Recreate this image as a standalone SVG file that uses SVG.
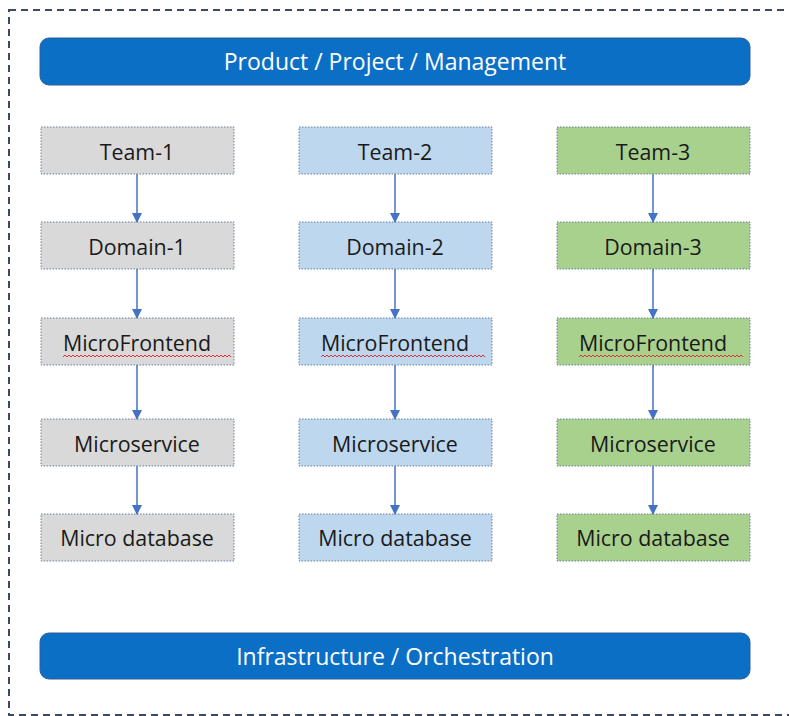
<svg xmlns="http://www.w3.org/2000/svg" width="789" height="716" viewBox="0 0 789 716">
<defs>
<marker id="ah" markerWidth="10" markerHeight="10" refX="9" refY="5" orient="auto" markerUnits="userSpaceOnUse">
<path d="M0,0 L10,5 L0,10 Z" fill="#4472c4"/>
</marker>
<style>
.bar{fill:#0b6fc6;stroke:#2f5f9a;stroke-width:1}
.bt{font-family:"Open Sans","Liberation Sans",sans-serif;font-size:23px;fill:#ffffff;text-anchor:middle;dominant-baseline:central}
.n{stroke:#6b7f99;stroke-width:1;stroke-dasharray:1.5 1.5}
.g{fill:#d9d9d9}.b{fill:#bdd7ee}.gr{fill:#a9d18e}
.t{font-family:"Open Sans","Liberation Sans",sans-serif;font-size:21.4px;fill:#1a1a1a;text-anchor:middle;dominant-baseline:central}
.c line{stroke:#4472c4;stroke-width:1.5;marker-end:url(#ah)}
.sq{fill:none;stroke:#e03030;stroke-width:1}
</style>
</defs>
<rect x="9" y="10" width="790" height="705" fill="none" stroke="#3d4a66" stroke-width="2" stroke-dasharray="7 5"/>
<g id="top"><rect class="bar" x="40" y="38" width="710" height="47" rx="9"/><text class="bt" x="395" y="61">Product / Project / Management</text></g>
<g id="bottom"><rect class="bar" x="40" y="633" width="710" height="46" rx="9"/><text class="bt" x="395" y="656">Infrastructure / Orchestration</text></g>

<g id="team1"><rect class="n g" x="41" y="127" width="193" height="47"/><text class="t" x="137" y="151">Team-1</text></g>
<g id="domain1"><rect class="n g" x="41" y="222" width="193" height="47"/><text class="t" x="137" y="246">Domain-1</text></g>
<g id="mfe1"><rect class="n g" x="41" y="318" width="193" height="47"/><text class="t" x="137" y="342">MicroFrontend</text></g>
<g id="ms1"><rect class="n g" x="41" y="419" width="193" height="47"/><text class="t" x="137" y="443">Microservice</text></g>
<g id="db1"><rect class="n g" x="41" y="514" width="193" height="47"/><text class="t" x="137" y="537">Micro database</text></g>

<g id="team2"><rect class="n b" x="299" y="127" width="193" height="47"/><text class="t" x="395" y="151">Team-2</text></g>
<g id="domain2"><rect class="n b" x="299" y="222" width="193" height="47"/><text class="t" x="395" y="246">Domain-2</text></g>
<g id="mfe2"><rect class="n b" x="299" y="318" width="193" height="47"/><text class="t" x="395" y="342">MicroFrontend</text></g>
<g id="ms2"><rect class="n b" x="299" y="419" width="193" height="47"/><text class="t" x="395" y="443">Microservice</text></g>
<g id="db2"><rect class="n b" x="299" y="514" width="193" height="47"/><text class="t" x="395" y="537">Micro database</text></g>

<g id="team3"><rect class="n gr" x="557" y="127" width="193" height="47"/><text class="t" x="653" y="151">Team-3</text></g>
<g id="domain3"><rect class="n gr" x="557" y="222" width="193" height="47"/><text class="t" x="653" y="246">Domain-3</text></g>
<g id="mfe3"><rect class="n gr" x="557" y="318" width="193" height="47"/><text class="t" x="653" y="342">MicroFrontend</text></g>
<g id="ms3"><rect class="n gr" x="557" y="419" width="193" height="47"/><text class="t" x="653" y="443">Microservice</text></g>
<g id="db3"><rect class="n gr" x="557" y="514" width="193" height="47"/><text class="t" x="653" y="537">Micro database</text></g>

<g id="squiggles">
<path class="sq" d="M63,357 l2,-2 l2,2 l2,-2 l2,2 l2,-2 l2,2 l2,-2 l2,2 l2,-2 l2,2 l2,-2 l2,2 l2,-2 l2,2 l2,-2 l2,2 l2,-2 l2,2 l2,-2 l2,2 l2,-2 l2,2 l2,-2 l2,2 l2,-2 l2,2 l2,-2 l2,2 l2,-2 l2,2 l2,-2 l2,2 l2,-2 l2,2 l2,-2 l2,2 l2,-2 l2,2 l2,-2 l2,2 l2,-2 l2,2 l2,-2 l2,2 l2,-2 l2,2 l2,-2 l2,2 l2,-2 l2,2 l2,-2 l2,2 l2,-2 l2,2 l2,-2 l2,2 l2,-2 l2,2 l2,-2 l2,2 l2,-2 l2,2 l2,-2 l2,2 l2,-2 l2,2 l2,-2 l2,2 l2,-2 l2,2 l2,-2 l2,2 l2,-2 l2,2 l2,-2 l2,2 l2,-2 l2,2 l2,-2 l2,2 l2,-2 l2,2 l2,-2 l2,2"/>
<path class="sq" transform="translate(258,0)" d="M63,357 l2,-2 l2,2 l2,-2 l2,2 l2,-2 l2,2 l2,-2 l2,2 l2,-2 l2,2 l2,-2 l2,2 l2,-2 l2,2 l2,-2 l2,2 l2,-2 l2,2 l2,-2 l2,2 l2,-2 l2,2 l2,-2 l2,2 l2,-2 l2,2 l2,-2 l2,2 l2,-2 l2,2 l2,-2 l2,2 l2,-2 l2,2 l2,-2 l2,2 l2,-2 l2,2 l2,-2 l2,2 l2,-2 l2,2 l2,-2 l2,2 l2,-2 l2,2 l2,-2 l2,2 l2,-2 l2,2 l2,-2 l2,2 l2,-2 l2,2 l2,-2 l2,2 l2,-2 l2,2 l2,-2 l2,2 l2,-2 l2,2 l2,-2 l2,2 l2,-2 l2,2 l2,-2 l2,2 l2,-2 l2,2 l2,-2 l2,2 l2,-2 l2,2 l2,-2 l2,2 l2,-2 l2,2 l2,-2 l2,2 l2,-2 l2,2"/>
<path class="sq" transform="translate(516,0)" d="M63,357 l2,-2 l2,2 l2,-2 l2,2 l2,-2 l2,2 l2,-2 l2,2 l2,-2 l2,2 l2,-2 l2,2 l2,-2 l2,2 l2,-2 l2,2 l2,-2 l2,2 l2,-2 l2,2 l2,-2 l2,2 l2,-2 l2,2 l2,-2 l2,2 l2,-2 l2,2 l2,-2 l2,2 l2,-2 l2,2 l2,-2 l2,2 l2,-2 l2,2 l2,-2 l2,2 l2,-2 l2,2 l2,-2 l2,2 l2,-2 l2,2 l2,-2 l2,2 l2,-2 l2,2 l2,-2 l2,2 l2,-2 l2,2 l2,-2 l2,2 l2,-2 l2,2 l2,-2 l2,2 l2,-2 l2,2 l2,-2 l2,2 l2,-2 l2,2 l2,-2 l2,2 l2,-2 l2,2 l2,-2 l2,2 l2,-2 l2,2 l2,-2 l2,2 l2,-2 l2,2 l2,-2 l2,2 l2,-2 l2,2 l2,-2 l2,2"/>
</g>

<g id="connectors" class="c">
<line x1="137" y1="174" x2="137" y2="222"/>
<line x1="137" y1="269" x2="137" y2="318"/>
<line x1="137" y1="365" x2="137" y2="419"/>
<line x1="137" y1="466" x2="137" y2="514"/>
<line x1="395" y1="174" x2="395" y2="222"/>
<line x1="395" y1="269" x2="395" y2="318"/>
<line x1="395" y1="365" x2="395" y2="419"/>
<line x1="395" y1="466" x2="395" y2="514"/>
<line x1="653" y1="174" x2="653" y2="222"/>
<line x1="653" y1="269" x2="653" y2="318"/>
<line x1="653" y1="365" x2="653" y2="419"/>
<line x1="653" y1="466" x2="653" y2="514"/>
</g>
</svg>
